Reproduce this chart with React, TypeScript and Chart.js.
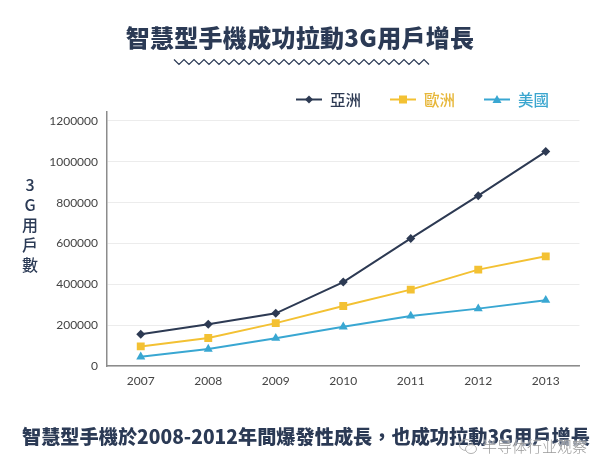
import React, { useEffect, useRef } from 'react';
import { Chart, registerables } from 'chart.js';

Chart.register(...registerables);

const years = ['2007', '2008', '2009', '2010', '2011', '2012', '2013'];
const asia = [155000, 204000, 258000, 411000, 625000, 834000, 1050000];
const europe = [96000, 137000, 210000, 294000, 374000, 472000, 537000];
const usa = [45000, 83000, 136000, 192000, 245000, 281000, 322000];
const yTicks = [0, 200000, 400000, 600000, 800000, 1000000, 1200000];

const seriesNames = ['亞洲', '歐洲', '美國'];
const seriesValues = [asia, europe, usa];
const seriesColors = ['#2d3a53', '#f3c133', '#39a7d2'];
const legendTextColors = ['#2d3a53', '#e7b73a', '#3ba6cf'];
const pointStyles = ['rectRot', 'rect', 'triangle'];
const pointRadii = [4.5, 5.6, 5.2];

const titleText = '智慧型手機成功拉動3G用戶增長';
const captionText = '智慧型手機於2008-2012年間爆發性成長，也成功拉動3G用戶增長';
const yTitleChars = ['3', 'G', '用', '戶', '數'];
const watermarkText = '半导体行业观察';

const navy = '#2b3a55';
const cjk = '"Noto Sans CJK TC", "Noto Sans", sans-serif';

function LegendMarker({ i }: { i: number }) {
  const c = seriesColors[i];
  let marker: React.ReactNode = null;
  if (i === 0) marker = <polygon points="13,1.5 17,5.5 13,9.5 9,5.5" fill={c} />;
  else if (i === 1) marker = <rect x="9" y="1.5" width="8" height="8" fill={c} />;
  else marker = <polygon points="13,1 17.5,9 8.5,9" fill={c} />;
  return (
    <svg width="26" height="11" style={{ display: 'block' }}>
      <line x1="0" y1="5.5" x2="26" y2="5.5" stroke={c} strokeWidth="2" />
      {marker}
    </svg>
  );
}

function Wave() {
  const pts: string[] = [];
  let up = true;
  for (let x = 174; x <= 433; x += 5) {
    pts.push(`${x},${up ? 59.5 : 64.5}`);
    up = !up;
  }
  return (
    <svg width="607" height="80" style={{ position: 'absolute', left: 0, top: 0 }}>
      <polyline points={pts.join(' ')} fill="none" stroke={navy} strokeWidth="1.2" />
    </svg>
  );
}

export default function App() {
  const canvasRef = useRef<HTMLCanvasElement | null>(null);

  useEffect(() => {
    if (!canvasRef.current) return;
    const chart = new Chart(canvasRef.current, {
      type: 'line',
      data: {
        labels: years,
        datasets: seriesNames.map((name, i) => ({
          label: name,
          data: seriesValues[i],
          borderColor: seriesColors[i],
          backgroundColor: seriesColors[i],
          borderWidth: 2,
          pointStyle: pointStyles[i] as any,
          pointRadius: pointRadii[i],
          pointBorderWidth: 0,
          pointBackgroundColor: seriesColors[i],
          tension: 0,
          fill: false,
        })),
      },
      options: {
        animation: false,
        responsive: false,
        layout: { padding: { top: 112, left: 47, right: 27.5, bottom: 0 } },
        plugins: { legend: { display: false }, tooltip: { enabled: false } },
        scales: {
          x: {
            offset: true,
            grid: { color: 'rgba(0,0,0,0)', drawTicks: false },
            border: { display: true, color: '#8c8c8c', width: 1.5 },
            ticks: { padding: 8, color: '#444', font: { family: 'Lato', size: 12 } },
            afterFit: (s: any) => { s.height = 105; },
          },
          y: {
            min: 0,
            max: 1244000,
            afterBuildTicks: (s: any) => { s.ticks = yTicks.map((v) => ({ value: v })); },
            grid: { color: '#ececec', drawTicks: false },
            border: { display: true, color: '#8c8c8c', width: 1.5 },
            ticks: {
              padding: 9,
              color: '#444',
              font: { family: 'Lato', size: 12 },
              callback: (v: any) => String(v),
            },
            afterFit: (s: any) => { s.width = 60; },
          },
        },
      },
    });
    return () => chart.destroy();
  }, []);

  return (
    <div style={{ position: 'fixed', left: 0, top: 0, width: 607, height: 471, background: '#fff', overflow: 'hidden' }}>
      <canvas ref={canvasRef} width={607} height={471} style={{ position: 'absolute', left: 0, top: 0, width: 607, height: 471 }} />
      <div style={{ position: 'absolute', left: 0, top: 20, width: 600, textAlign: 'center', fontFamily: cjk, fontWeight: 900, fontSize: 24, lineHeight: '34px', color: navy, letterSpacing: 0.3 }}>
        {titleText}
      </div>
      <Wave />
      <div style={{ position: 'absolute', left: 296, top: 88, height: 22, display: 'flex', alignItems: 'center', fontFamily: cjk, fontSize: 15.5, fontWeight: 500 }}>
        {seriesNames.map((n, i) => (
          <div key={n} style={{ display: 'flex', alignItems: 'center', marginRight: 29 }}>
            <LegendMarker i={i} />
            <span style={{ marginLeft: 8, color: legendTextColors[i] }}>{n}</span>
          </div>
        ))}
      </div>
      <div style={{ position: 'absolute', left: 20, top: 174, width: 20, textAlign: 'center', fontFamily: cjk, fontSize: 16, fontWeight: 500, color: navy, lineHeight: '20px' }}>
        {yTitleChars.map((c) => (<div key={c}>{c}</div>))}
      </div>
      <div style={{ position: 'absolute', left: 22, top: 422, whiteSpace: 'nowrap', fontFamily: cjk, fontWeight: 900, fontSize: 19.2, lineHeight: '28px', color: navy }}>
        {captionText}
      </div>
      <div style={{ position: 'absolute', left: 458, top: 436, display: 'flex', alignItems: 'center', whiteSpace: 'nowrap', opacity: 0.9 }}>
        <svg width="22" height="20" style={{ display: 'block', flex: 'none' }}>
          <ellipse cx="8" cy="9" rx="6.5" ry="5.5" fill="none" stroke="#aaa" strokeWidth="1" />
          <ellipse cx="13" cy="13" rx="5.5" ry="4.5" fill="rgba(255,255,255,0.85)" stroke="#aaa" strokeWidth="1" />
        </svg>
        <span style={{ marginLeft: 2, fontFamily: '"Noto Sans CJK SC", sans-serif', fontSize: 15, fontWeight: 300, lineHeight: '18px', color: '#8f8f8f', textShadow: '0 0 2px #fff, 0 0 2px #fff, 0 0 1px #fff' }}>{watermarkText}</span>
      </div>
    </div>
  );
}
